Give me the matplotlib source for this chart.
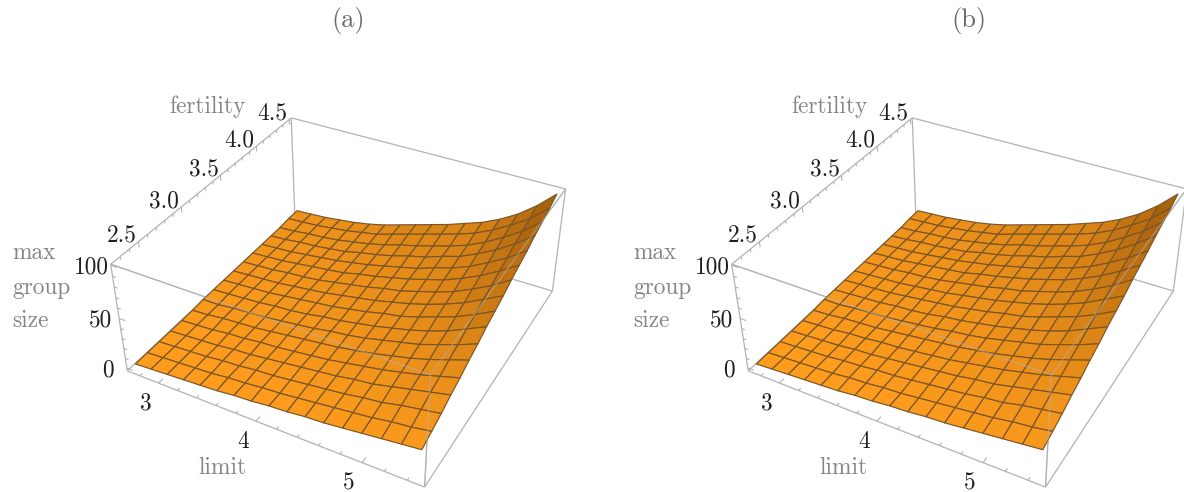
import numpy as np
import matplotlib
matplotlib.use("Agg")
import matplotlib.pyplot as plt
from mpl_toolkits.mplot3d import art3d

W, H = 1184, 492
plt.rcParams['font.family'] = ['cmr10', 'DejaVu Sans']
plt.rcParams['axes.formatter.use_mathtext'] = True

# data ---------------------------------------------------------------
limit_range = (2.66, 5.55)
fert_range = (2.20, 4.53)
size_range = (-3.0, 101.0)
surf_limit = (2.72, 5.49)
surf_fert = (2.24, 4.49)

z_table_a = [
 [3,4,5,6,7,8,10,11,13,14,16,17,19,21,23,25,27],
 [3,4,5,6,7,9,10,12,13,15,17,19,21,23,26,28,31],
 [3,4,5,6,8,9,11,12,14,16,18,20,23,25,29,32,35],
 [3,4,5,6,8,9,11,13,15,17,19,22,24,28,32,36,40],
 [3,4,5,7,8,10,11,13,15,17,20,23,26,30,34,39,44],
 [3,4,6,7,8,10,12,14,16,18,21,24,28,32,37,43,49],
 [4,4,6,7,8,10,12,14,17,19,22,26,30,34,40,46,53],
 [4,5,6,7,9,10,12,15,17,20,23,27,31,36,42,50,58],
 [4,5,6,7,9,11,13,15,18,21,25,28,33,39,45,53,62],
 [4,5,6,7,9,11,13,16,19,22,26,30,35,41,48,57,66],
 [4,5,6,8,9,11,14,17,20,24,27,32,37,43,51,60,71],
 [4,5,6,8,10,12,14,18,21,25,29,34,39,46,54,64,75],
 [4,5,6,8,10,12,15,18,22,26,30,36,41,48,57,67,79],
 [4,5,7,8,10,12,16,19,23,28,32,38,43,51,60,71,84],
 [4,5,7,8,10,13,16,20,25,29,34,39,45,53,63,74,88],
 [5,6,7,9,11,14,17,22,27,32,37,42,48,56,66,77,92],
 [5,6,7,9,11,14,18,23,28,33,38,44,50,58,68,81,97],
]
z_table_b = z_table_a

limit_major = [3, 4, 5]
limit_minor = [2.8, 3.2, 3.4, 3.6, 3.8, 4.2, 4.4, 4.6, 4.8, 5.2, 5.4]
fert_major = [2.5, 3.0, 3.5, 4.0, 4.5]
fert_minor = [2.3, 2.4, 2.6, 2.7, 2.8, 2.9, 3.1, 3.2, 3.3, 3.4, 3.6, 3.7, 3.8, 3.9, 4.1, 4.2, 4.3, 4.4]
size_major = [0, 50, 100]
size_minor = [10, 20, 30, 40, 60, 70, 80, 90]
titles = ["(a)", "(b)"]

# box corners (limit idx, fertility idx, size idx) -> reference pixels
corner_px = {
    (0, 0, 0): (127, 371), (0, 0, 1): (111, 264),
    (1, 0, 0): (425, 487), (1, 0, 1): (430, 375),
    (1, 1, 0): (552, 291), (1, 1, 1): (566, 189),
    (0, 1, 0): (295, 214), (0, 1, 1): (291, 118),
}

def scale_matrix():
    lo = np.array([limit_range[0], fert_range[0], size_range[0]])
    hi = np.array([limit_range[1], fert_range[1], size_range[1]])
    N = np.eye(4)
    N[:3, :3] = np.diag(1 / (hi - lo))
    N[:3, 3] = -lo / (hi - lo)
    return N

def solve_camera(offset):
    rows = []
    for (a, b, c), (u, v) in corner_px.items():
        u = u + offset
        X = [a, b, c, 1]
        rows.append([*X, 0, 0, 0, 0, *[-u * q for q in X]])
        rows.append([0, 0, 0, 0, *X, *[-v * q for q in X]])
    P = np.linalg.svd(np.array(rows, float))[2][-1].reshape(3, 4)
    if P[2, 3] < 0:
        P = -P
    return P @ scale_matrix()

def project(P, x, y, z):
    q = P @ np.array([x, y, z, 1.0])
    return q[0] / q[2], q[1] / q[2]

def face_colors(z):
    z = np.array(z, float)
    dl = np.gradient(z, axis=1)
    s = np.clip(dl / 17.0, 0, 1) ** 1.5
    nf = np.linspace(0, 1, z.shape[0])[:, None]
    nl = np.linspace(0, 1, z.shape[1])[None, :]
    light = 1.0 - 0.08 * np.clip(nf + 0.3 * (nl - 0.5), 0, 1)
    base = np.array([1.0, 0.615, 0.115])
    dark = np.array([0.53, 0.29, 0.02])
    rgb = (base[None, None, :] * light[:, :, None]) * (1 - s[:, :, None]) + dark[None, None, :] * s[:, :, None]
    return np.clip(rgb, 0, 1)

fig = plt.figure(figsize=(W / 100, H / 100), dpi=100, facecolor='white')
LINE = '#b2b2b2'
LBL = '#858585'
TXT = '#1f1f1f'
FS = 16.8

def put(x, y, s, color, ha='center', fs=FS):
    fig.text(x / W, 1 - y / H, s, color=color, fontsize=fs, ha=ha, va='center')

def panel(z_table, title, offset):
    left = -5 + offset
    size = 600
    ax = fig.add_axes([left / W, (H - 546) / H, size / W, size / H], projection='3d')
    ax.patch.set_visible(False)
    ax.set_axis_off()
    ax.computed_zorder = False
    P = solve_camera(offset)
    depth = np.array([-1.0, 1.0, -0.3, 2.0]) @ scale_matrix()

    def get_proj():
        # pixel camera -> display (y up) -> the axes' own data coordinates
        flip = np.array([[1, 0, 0], [0, -1, H], [0, 0, 1.0]])
        inv = ax.transData.inverted().get_affine().get_matrix()
        Q = inv @ flip @ P
        return np.vstack([Q[0], Q[1], depth, Q[2]])
    ax.get_proj = get_proj

    lo = (limit_range[0], fert_range[0], size_range[0])
    hi = (limit_range[1], fert_range[1], size_range[1])
    def c(a, b, d):
        return (lo[0] if a == 0 else hi[0], lo[1] if b == 0 else hi[1], lo[2] if d == 0 else hi[2])
    def add_lines(segs, z, lw=1.0, alpha=1.0):
        coll = art3d.Line3DCollection(segs, colors=LINE, linewidths=lw, alpha=alpha, zorder=z)
        ax.add_collection3d(coll)

    front = [((0,0,1),(1,0,1)), ((1,0,1),(1,1,1)), ((1,0,0),(1,0,1))]
    back = [((0,0,0),(0,1,0)), ((0,1,0),(1,1,0)), ((0,1,0),(0,1,1)),
            ((1,0,0),(1,1,0)), ((0,0,0),(1,0,0)), ((0,0,0),(0,0,1)),
            ((0,0,1),(0,1,1)), ((0,1,1),(1,1,1)), ((1,1,0),(1,1,1))] + front
    add_lines([(c(*p), c(*q)) for p, q in back], 1, lw=0.9)
    add_lines([(c(*p), c(*q)) for p, q in front], 5, lw=0.9, alpha=0.55)

    n = len(z_table)
    X, Y = np.meshgrid(np.linspace(*surf_limit, n), np.linspace(*surf_fert, n))
    Z = np.array(z_table, float)
    surf = ax.plot_surface(X, Y, Z, rstride=1, cstride=1, facecolors=face_colors(z_table),
                           shade=False, linewidth=0.85, antialiased=True, zorder=3)
    surf.set_edgecolor('#7a5526')

    fs = fert_range[1] - fert_range[0]
    ls = limit_range[1] - limit_range[0]
    zs = size_range[1] - size_range[0]
    ticks = []
    for v, L in [(v, 0.022) for v in limit_major] + [(v, 0.012) for v in limit_minor]:
        ticks.append(((v, lo[1], lo[2]), (v, lo[1] + L * fs, lo[2])))
    for v, L in [(v, 0.05) for v in fert_major] + [(v, 0.028) for v in fert_minor]:
        ticks.append(((lo[0], v, hi[2]), (lo[0], v, hi[2] - L * zs)))
    for v, L in [(v, 0.022) for v in size_major] + [(v, 0.012) for v in size_minor]:
        ticks.append(((lo[0], lo[1], v), (lo[0] + L * ls, lo[1], v)))
    add_lines(ticks, 2, lw=0.8)

    for v in fert_major:
        u, w = project(P, lo[0], v, hi[2])
        put(u - 17, w - 6, f"{v:.1f}", TXT)
    for v in size_major:
        u, w = project(P, lo[0], lo[1], v)
        put(u - 19, w + 2, f"{v}", TXT)
    for v in limit_major:
        u, w = project(P, v, lo[1], lo[2])
        put(u - 13, w + 20.5, f"{v}", TXT)

    put(348 + offset, 21, title, '#6a6a6a', fs=19)
    put(208 + offset, 107, "fertility", LBL)
    put(222 + offset, 468, "limit", LBL)
    put(12 + offset, 253, "max", LBL, ha='left')
    put(12 + offset, 288, "group", LBL, ha='left')
    put(12 + offset, 321, "size", LBL, ha='left')

panel(z_table_a, titles[0], 0)
panel(z_table_b, titles[1], 621)
fig.savefig("out.png", dpi=100)
